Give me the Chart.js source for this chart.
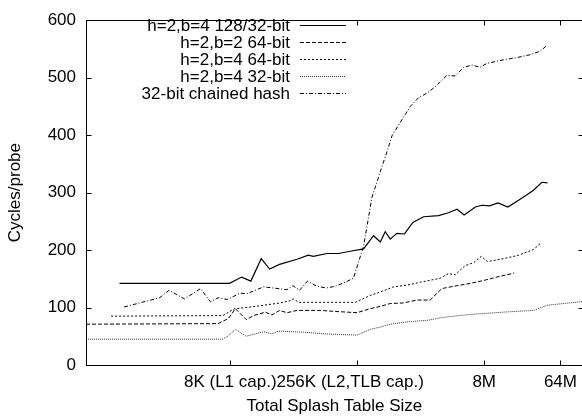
<!DOCTYPE html>
<html>
<head>
<meta charset="utf-8">
<script src="https://cdn.jsdelivr.net/npm/chart.js@4.4.0/dist/chart.umd.min.js"></script>
<style>
  html, body { margin: 0; padding: 0; background: #fff; overflow: hidden; }
  #wrap { width: 584px; height: 417px; }
</style>
</head>
<body>
<div id="wrap"><canvas id="chart" width="584" height="417"></canvas></div>
<script>
// x values are log2 of the total splash table size (13 = 8K, 18 = 256K ...)
const xTickValues = [13, 18, 23, 26];
const xTickLabels = ['8K (L1 cap.)', '256K (L2,TLB cap.)\u00a0\u00a0\u00a0', '8M', '64M'];
const yTickStep = 100;

const seriesLabels = [
    'h=2,b=4 128/32-bit',
    'h=2,b=2 64-bit',
    'h=2,b=4 64-bit',
    'h=2,b=4 32-bit',
    '32-bit chained hash'
];

// h=2,b=4 128/32-bit
const sizeB4w128 = [8.64, 12.97, 13.45, 13.81, 14.22, 14.55, 14.94, 15.63, 16.07, 16.27, 16.81, 17.26, 17.72, 18.25, 18.64, 18.91, 19.10, 19.30, 19.56, 19.86, 20.19, 20.61, 21.20, 21.59, 21.93, 22.21, 22.65, 22.91, 23.21, 23.54, 23.93, 24.29, 24.61, 24.94, 25.27, 25.49];
const cyclesB4w128 = [142, 142, 153, 146, 185, 167, 175, 184, 191, 189, 194, 194, 198, 202, 225, 214, 232, 219, 229, 228, 248, 258, 260, 265, 271, 261, 275, 278, 277, 282, 275, 285, 294, 304, 318, 317];

// h=2,b=2 64-bit
const sizeB2w64 = [7.32, 12.52, 12.93, 13.20, 13.63, 13.92, 14.38, 14.64, 14.94, 15.23, 15.63, 16.54, 17.20, 17.99, 18.51, 18.91, 19.30, 19.82, 20.35, 20.87, 21.33, 21.93, 22.45, 22.97, 23.50, 24.18];
const cyclesB2w64 = [71, 72, 81, 98, 79, 86, 92, 87, 95, 91, 95, 95, 93, 91, 98, 102, 107, 108, 113, 113, 133, 138, 142, 147, 153, 160];

// h=2,b=4 64-bit
const sizeB4w64 = [8.31, 12.71, 13.17, 13.66, 14.31, 14.97, 15.36, 15.49, 15.69, 17.92, 18.51, 18.91, 19.43, 19.96, 20.48, 21.27, 21.59, 21.86, 22.25, 22.58, 22.88, 23.13, 23.76, 24.35, 24.94, 25.20];
const cyclesB4w64 = [85, 86, 98, 100, 104, 108, 112, 115, 109, 109, 121, 127, 136, 139, 144, 151, 159, 157, 173, 178, 189, 180, 185, 191, 201, 211];

// h=2,b=4 32-bit
const sizeB4w32 = [7.32, 12.71, 12.93, 13.20, 13.63, 14.31, 14.64, 14.90, 15.89, 16.81, 17.99, 18.51, 18.91, 19.30, 19.96, 20.81, 21.40, 22.45, 23.76, 24.94, 25.47, 27.00];
const cyclesB4w32 = [45, 45, 51, 62, 50, 58, 54, 59, 57, 54, 52, 62, 66, 71, 75, 78, 83, 88, 92, 95, 104, 111];

// 32-bit chained hash
const sizeChained = [8.82, 10.22, 10.59, 11.20, 11.83, 12.22, 12.52, 12.88, 13.39, 13.66, 14.31, 14.70, 15.23, 15.47, 15.73, 16.04, 16.41, 16.78, 17.13, 17.53, 17.85, 18.25, 18.58, 18.91, 19.17, 19.37, 19.69, 20.09, 20.41, 20.74, 21.07, 21.53, 21.86, 22.19, 22.52, 22.84, 23.11, 23.76, 24.29, 24.81, 25.20, 25.44];
const cyclesChained = [101, 117, 130, 115, 133, 110, 117, 114, 125, 124, 136, 134, 131, 138, 130, 146, 137, 134, 137, 144, 151, 207, 292, 337, 371, 399, 422, 450, 465, 473, 484, 504, 503, 518, 522, 518, 525, 531, 535, 540, 546, 555];

function pairs(xs, ys) {
    return xs.map((x, i) => ({ x: x, y: ys[i] }));
}

const FONT = "'Liberation Sans', Arial, Helvetica, sans-serif";
const FONT_SIZE = 17;

// gnuplot style box, inward ticks on every side, legend top right
const gnuplotFrame = {
    id: 'gnuplotFrame',
    afterDraw(chart) {
        const ctx = chart.ctx;
        const a = chart.chartArea;
        const xs = chart.scales.x, ys = chart.scales.y;
        const L = Math.round(a.left) + 0.5, R = Math.round(a.right) + 0.5;
        const T = Math.round(a.top) + 0.5, B = Math.round(a.bottom) + 0.5;
        ctx.save();
        ctx.strokeStyle = '#000';
        ctx.lineWidth = 1;
        ctx.setLineDash([]);
        ctx.strokeRect(L, T, R - L, B - T);
        ctx.beginPath();
        ys.ticks.forEach(t => {
            const py = Math.round(ys.getPixelForValue(t.value)) + 0.5;
            ctx.moveTo(L, py); ctx.lineTo(L + 5, py);
            ctx.moveTo(R, py); ctx.lineTo(R - 5, py);
        });
        xs.ticks.forEach(t => {
            const px = Math.round(xs.getPixelForValue(t.value)) + 0.5;
            ctx.moveTo(px, B); ctx.lineTo(px, B - 5);
            ctx.moveTo(px, T); ctx.lineTo(px, T + 5);
        });
        ctx.stroke();

        // legend
        ctx.font = FONT_SIZE + 'px ' + FONT;
        ctx.fillStyle = '#000';
        ctx.textAlign = 'right';
        ctx.textBaseline = 'middle';
        chart.data.datasets.forEach((ds, i) => {
            const ry = Math.round(25 + i * 16.9) + 0.5;
            ctx.fillText(ds.label, 290, ry + 1);
            ctx.strokeStyle = ds.borderColor;
            ctx.lineWidth = ds.borderWidth;
            ctx.setLineDash(ds.borderDash || []);
            ctx.beginPath();
            ctx.moveTo(300, ry);
            ctx.lineTo(346, ry);
            ctx.stroke();
        });
        ctx.restore();
    }
};

Chart.defaults.font.family = FONT;
Chart.defaults.font.size = FONT_SIZE;
Chart.defaults.color = '#000';

new Chart(document.getElementById('chart'), {
    type: 'line',
    data: {
        datasets: [
            { label: seriesLabels[0], data: pairs(sizeB4w128, cyclesB4w128), borderColor: '#000', borderWidth: 1.2, borderDash: [] },
            { label: seriesLabels[1], data: pairs(sizeB2w64, cyclesB2w64), borderColor: '#000', borderWidth: 1, borderDash: [4, 2] },
            { label: seriesLabels[2], data: pairs(sizeB4w64, cyclesB4w64), borderColor: '#000', borderWidth: 1, borderDash: [2, 2] },
            { label: seriesLabels[3], data: pairs(sizeB4w32, cyclesB4w32), borderColor: '#333', borderWidth: 1, borderDash: [1, 1] },
            { label: seriesLabels[4], data: pairs(sizeChained, cyclesChained), borderColor: '#000', borderWidth: 1, borderDash: [4, 2, 1, 2] }
        ]
    },
    options: {
        responsive: false,
        animation: false,
        devicePixelRatio: 1,
        layout: { padding: { top: 12, right: 1, left: 0, bottom: 0 } },
        elements: { point: { radius: 0 }, line: { tension: 0, fill: false } },
        plugins: { legend: { display: false }, tooltip: { enabled: false } },
        scales: {
            x: {
                type: 'linear',
                min: 7.32,
                max: 26.88,
                afterBuildTicks: (scale) => { scale.ticks = xTickValues.map(v => ({ value: v })); },
                afterFit: (scale) => { scale.height = 52; },
                grid: { display: false, drawTicks: false },
                border: { display: false },
                ticks: {
                    autoSkip: false,
                    maxRotation: 0,
                    minRotation: 0,
                    padding: 7,
                    callback: (v) => xTickLabels[xTickValues.indexOf(v)]
                },
                title: { display: true, text: 'Total Splash Table Size', padding: { top: 0, bottom: 0 } }
            },
            y: {
                min: 0,
                max: 600,
                afterFit: (scale) => { scale.width = 86; },
                grid: { display: false, drawTicks: false },
                border: { display: false },
                ticks: { stepSize: yTickStep, padding: 10 },
                title: { display: true, text: 'Cycles/probe', padding: { top: 5, bottom: 0 } }
            }
        }
    },
    plugins: [gnuplotFrame]
});
</script>
</body>
</html>
